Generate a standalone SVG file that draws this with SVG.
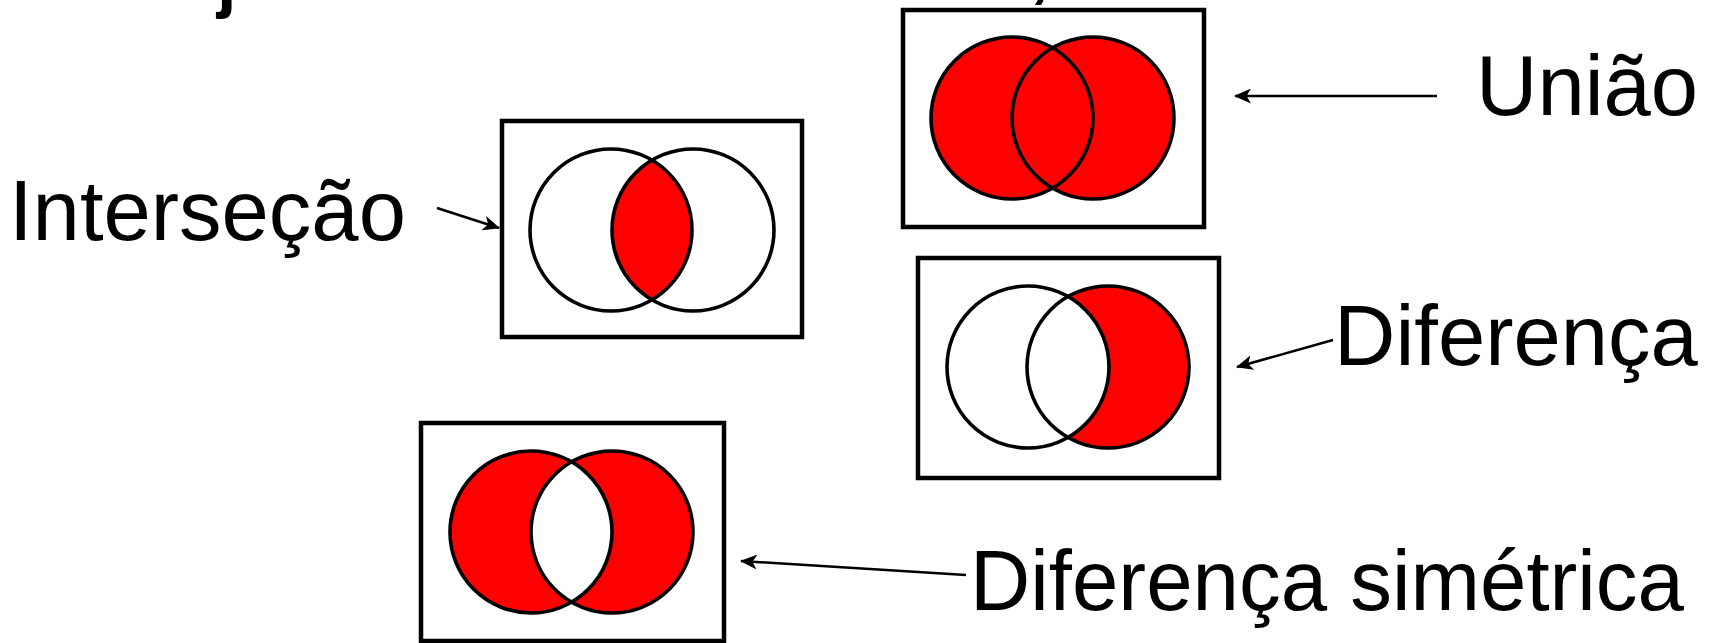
<svg xmlns="http://www.w3.org/2000/svg" width="1717" height="643" viewBox="0 0 1717 643">
<style>
.box{fill:#fff;stroke:#000;stroke-width:4.5}
.ring{fill:none;stroke:#000;stroke-width:3.6}
.red{fill:#ff0000}
.wht{fill:#fff}
.lbl{font-family:"Liberation Sans",Arial,sans-serif;font-size:85px;fill:#000}
.cut{font-family:"Liberation Sans",Arial,sans-serif;font-size:70px;font-weight:bold;fill:#000}
.conn{stroke:#000;stroke-width:2.5;fill:none;marker-end:url(#ah)}
</style>
<defs>
<marker id="ah" viewBox="0 0 17 15" refX="16" refY="7.5" markerWidth="17" markerHeight="15" markerUnits="userSpaceOnUse" orient="auto">
<path d="M0,0 L17,7.5 L0,15 L4.5,7.5 Z" fill="#000"/>
</marker>
<clipPath id="cI"><circle cx="611" cy="230" r="81"/></clipPath>
<clipPath id="cS"><circle cx="531" cy="532" r="81"/></clipPath>
</defs>
<rect width="1717" height="643" fill="#fff"/>
<g id="title-fragments">
<text class="cut" x="217" y="4">j</text>
<text class="cut" x="1030" y="-6">,</text>
</g>
<g id="intersecao">
<rect class="box" x="502" y="121" width="300" height="216"/>
<circle class="red" cx="693" cy="230" r="81" clip-path="url(#cI)"/>
<circle class="ring" cx="611" cy="230" r="81"/>
<circle class="ring" cx="693" cy="230" r="81"/>
<text class="lbl" x="9" y="240">Interseção</text>
</g>
<g id="uniao">
<rect class="box" x="903" y="10" width="301" height="217"/>
<circle class="red" cx="1012" cy="118" r="81"/>
<circle class="red" cx="1093" cy="118" r="81"/>
<circle class="ring" cx="1012" cy="118" r="81"/>
<circle class="ring" cx="1093" cy="118" r="81"/>
<text class="lbl" x="1476" y="115">União</text>
</g>
<g id="diferenca">
<rect class="box" x="918" y="258" width="301" height="220"/>
<circle class="red" cx="1108" cy="367" r="81"/>
<circle class="wht" cx="1028" cy="367" r="81"/>
<circle class="ring" cx="1028" cy="367" r="81"/>
<circle class="ring" cx="1108" cy="367" r="81"/>
<text class="lbl" x="1334" y="365">Diferença</text>
</g>
<g id="diferenca-simetrica">
<rect class="box" x="421" y="423" width="303" height="218"/>
<circle class="red" cx="531" cy="532" r="81"/>
<circle class="red" cx="612" cy="532" r="81"/>
<circle class="wht" cx="612" cy="532" r="81" clip-path="url(#cS)"/>
<circle class="ring" cx="531" cy="532" r="81"/>
<circle class="ring" cx="612" cy="532" r="81"/>
<text class="lbl" x="970" y="610" textLength="714" lengthAdjust="spacingAndGlyphs">Diferença simétrica</text>
</g>
<g id="connectors">
<line class="conn" x1="437" y1="208" x2="499" y2="228"/>
<line class="conn" x1="1437" y1="96" x2="1235" y2="96"/>
<line class="conn" x1="1333" y1="340" x2="1237" y2="367"/>
<line class="conn" x1="966" y1="575" x2="741" y2="561"/>
</g>
</svg>
